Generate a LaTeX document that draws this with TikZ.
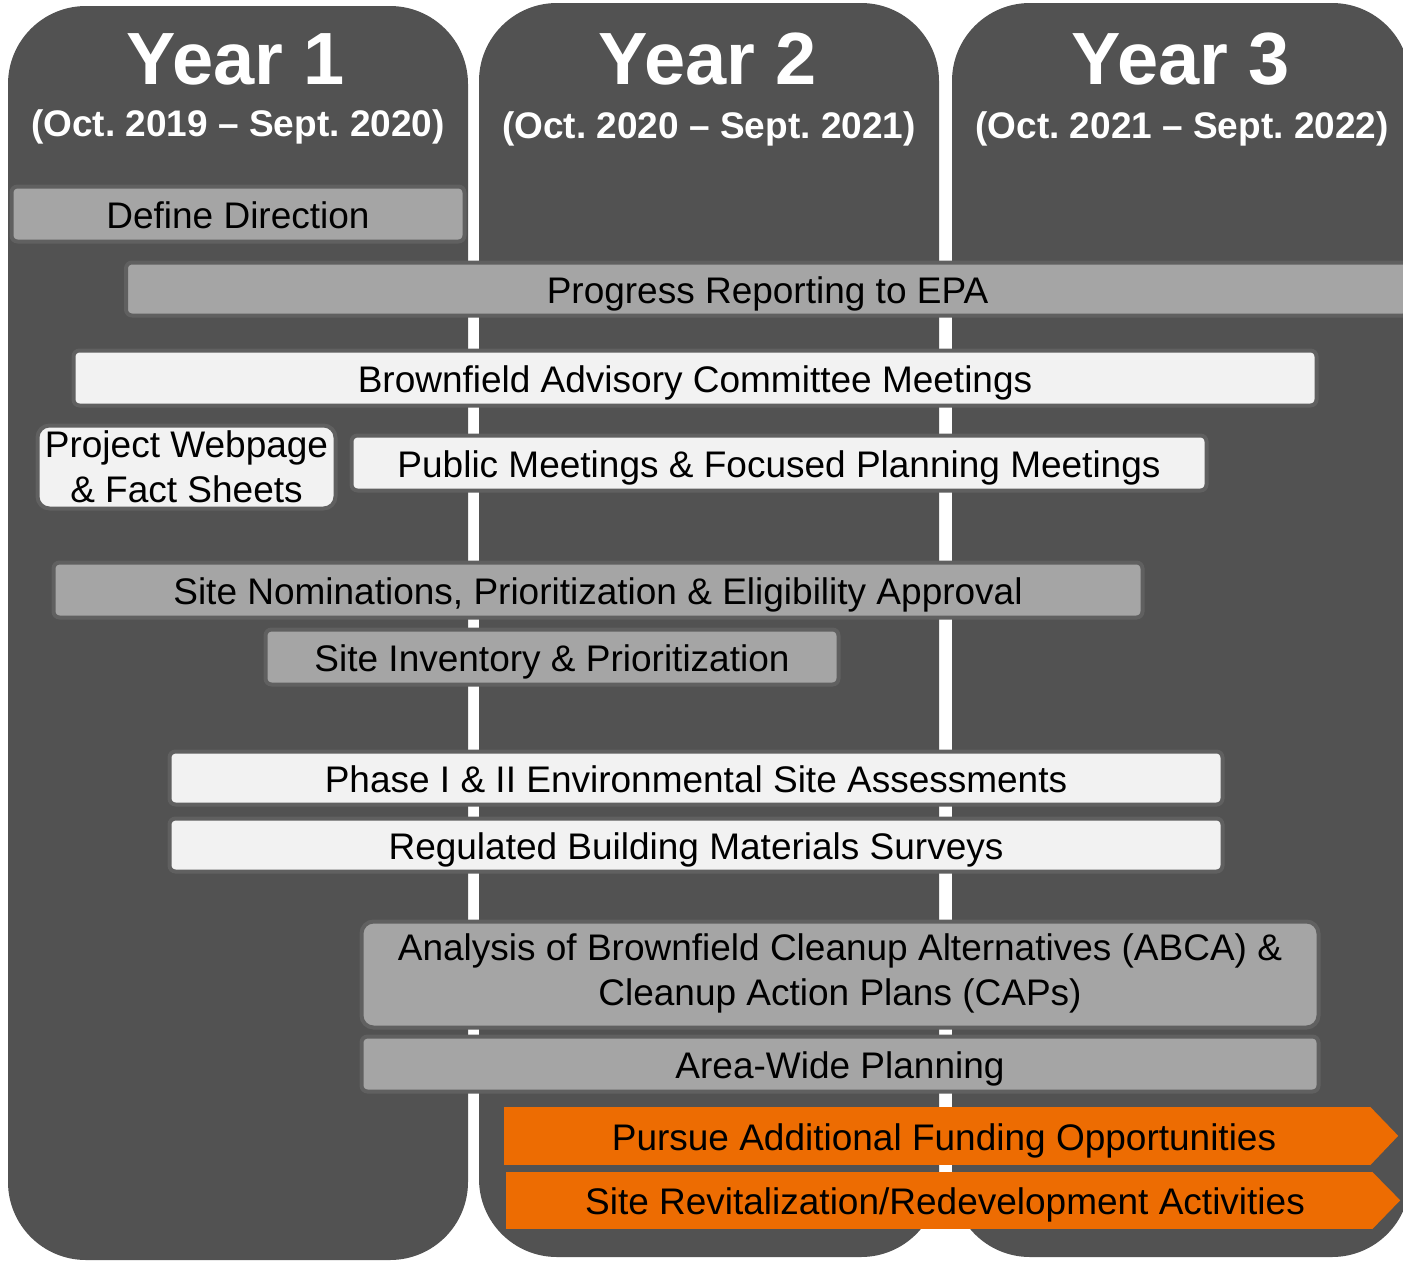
\documentclass[tikz,border=0pt]{standalone}
\usepackage{fontspec}
\setmainfont{Liberation Sans}
\frenchspacing
\definecolor{colbg}{HTML}{525252}
\definecolor{bargray}{HTML}{A5A5A5}
\definecolor{barwhite}{HTML}{F2F2F2}
\definecolor{barline}{HTML}{606060}
\definecolor{barorange}{HTML}{ED6C02}
\begin{document}
\begin{tikzpicture}[x=1pt,y=-1pt]
    \useasboundingbox (0,0) rectangle (1403,1261);
    \tikzstyle{annee}=[fill=colbg, rounded corners=78pt]
    \tikzstyle{titre}=[anchor=base, text=white, inner sep=0pt, font=\fontsize{74pt}{80pt}\selectfont\bfseries]
    \tikzstyle{periode}=[anchor=base, text=white, inner sep=0pt, font=\fontsize{37pt}{45pt}\selectfont\bfseries]
    \fill[annee] (8,6) rectangle (468,1260);
    \fill[annee] (479,3) rectangle (939,1257);
    \fill[annee] (952,3) rectangle (1410,1257);
    \node[titre] (A1) at (236,84) {Year 1};
    \node[titre] (A2) at (708,84) {Year 2};
    \node[titre] (A3) at (1181,84) {Year 3};
    \node[periode] (P1) at (238,136) {(Oct. 2019 -- Sept. 2020)};
    \node[periode] (P2) at (709,138) {(Oct. 2020 -- Sept. 2021)};
    \node[periode] (P3) at (1182,138) {(Oct. 2021 -- Sept. 2022)};

    \tikzstyle{tache}=[rectangle, rounded corners=6pt, draw=barline, line width=4pt, inner sep=0pt, font=\fontsize{37pt}{45pt}\selectfont, text height=33pt, text depth=5pt]
    \tikzstyle{grise}=[tache, fill=bargray]
    \tikzstyle{blanche}=[tache, fill=barwhite]
    \tikzstyle{double}=[rounded corners=12pt, align=center, text height=, text depth=]
    \node[grise, minimum width=453pt, minimum height=55pt] (N01) at (238,214) {Define Direction};
    \node[grise, minimum width=1283pt, minimum height=53pt] (N02) at (767.5,289) {Progress Reporting to EPA};
    \node[blanche, minimum width=1243pt, minimum height=55pt] (N03) at (695,378) {Brownfield Advisory Committee Meetings};
    \node[blanche, double, minimum width=298pt, minimum height=83pt] (N04) at (186.5,467) {Project Webpage\\ \& Fact Sheets};
    \node[blanche, minimum width=855pt, minimum height=55pt] (N05) at (779,463) {Public Meetings \& Focused Planning Meetings};
    \node[grise, minimum width=1089pt, minimum height=55pt] (N06) at (598,590) {Site Nominations, Prioritization \& Eligibility Approval};
    \node[grise, minimum width=573pt, minimum height=55pt] (N07) at (552,657) {Site Inventory \& Prioritization};
    \node[blanche, minimum width=1053pt, minimum height=53pt] (N08) at (696,778) {Phase I \& II Environmental Site Assessments};
    \node[blanche, minimum width=1053pt, minimum height=53pt] (N09) at (696,845) {Regulated Building Materials Surveys};
    \node[grise, double, minimum width=957pt, minimum height=106pt, text depth=10pt] (N10) at (840,974.5) {Analysis of Brownfield Cleanup Alternatives (ABCA) \&\\ Cleanup Action Plans (CAPs)};
    \node[grise, minimum width=957pt, minimum height=55pt] (N11) at (840,1064) {Area-Wide Planning};

    \tikzstyle{fleche}=[rectangle, fill=barorange, inner sep=0pt, minimum width=866pt, minimum height=58pt, font=\fontsize{37pt}{45pt}\selectfont, text height=33pt, text depth=5pt]
    \node[fleche] (N12) at (937,1136) {\hspace*{14pt}Pursue Additional Funding Opportunities};
    \node[fleche, minimum height=57pt] (N13) at (939,1200.5) {\hspace*{12pt}Site Revitalization/Redevelopment Activities};
    \fill[barorange] (N12.north east) -- ++(28,29) -- (N12.south east) -- cycle;
    \fill[barorange] (N13.north east) -- ++(28,28.5) -- (N13.south east) -- cycle;
\end{tikzpicture}
\end{document}
